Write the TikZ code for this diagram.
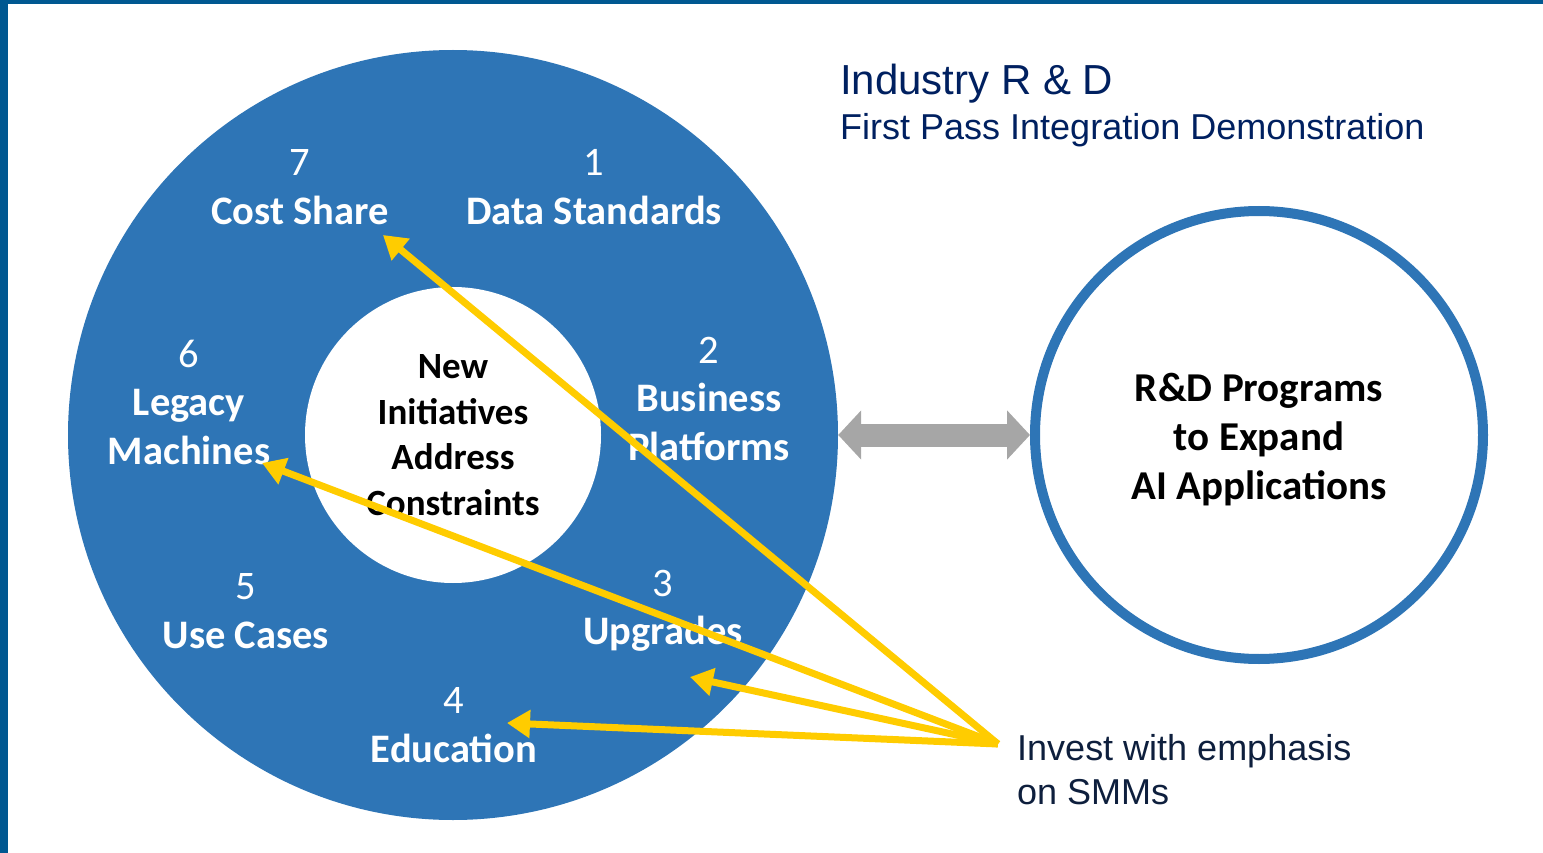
\documentclass[tikz,border=0pt]{standalone}
\usepackage{fontspec}
\setmainfont{Carlito}
\newfontfamily\arialfont{Liberation Sans}
\usetikzlibrary{arrows.meta}
\definecolor{frameblue}{RGB}{0,88,145}
\definecolor{ringblue}{RGB}{46,117,182}
\definecolor{pickyellow}{RGB}{255,204,0}
\definecolor{linkgray}{RGB}{166,166,166}
\definecolor{titlenavy}{RGB}{0,32,96}
\definecolor{notenavy}{RGB}{14,31,61}

\begin{document}
\begin{tikzpicture}[x=1pt,y=-1pt,
    lbl/.style={text=white, align=center, inner sep=0pt,
      font=\fontsize{40.5}{48.5}\selectfont\bfseries},
    pick/.style={draw=pickyellow, line width=7pt,
      -{Triangle[length=23pt,width=27pt]}}]
  \useasboundingbox (0,0) rectangle (1543,853);
  % frame bars
  \fill[frameblue] (0,0) rectangle (1543,4);
  \fill[frameblue] (0,0) rectangle (8,853);

  % the ring of seven areas
  \node[circle, fill=ringblue, minimum size=770pt, inner sep=0pt] (ring) at (453,435) {};
  \node[circle, fill=white, minimum size=296pt, inner sep=0pt, align=center,
    font=\fontsize{37}{45.5}\selectfont\bfseries] (core) at (453,435)
    {New\\Initiatives\\Address\\Constraints};
  \node[lbl] (area1) at (594,187) {{\mdseries 1}\\Data Standards};
  \node[lbl] (area2) at (709,399) {{\mdseries 2}\\Business\\Platforms};
  \node[lbl] (area3) at (663,611) {{\mdseries 3}\\Upgrades};
  \node[lbl] (area4) at (454,725) {{\mdseries 4}\\Education};
  \node[lbl] (area5) at (246,611) {{\mdseries 5}\\Use Cases};
  \node[lbl] (area6) at (189,402) {{\mdseries 6}\\Legacy\\Machines};
  \node[lbl] (area7) at (300,187) {{\mdseries 7}\\Cost Share};

  % R&D circle on the right
  \node[circle, draw=ringblue, line width=10pt, minimum size=448pt, align=center,
    font=\fontsize{41}{49}\selectfont\bfseries] (rd) at (1259,435) {};
  \node[align=center, inner sep=0pt, font=\fontsize{41}{49}\selectfont\bfseries]
    (rdtext) at (1259,440) {R\&D Programs\\to Expand\\AI Applications};
  \draw[linkgray, line width=23pt,
    {Triangle[length=23pt,width=48pt]}-{Triangle[length=23pt,width=48pt]}]
    (ring.east) -- (rd.west);

  % headings
  \node[anchor=base west, inner sep=0pt, text=titlenavy,
    font=\arialfont\fontsize{42}{50}\selectfont] (title) at (840,95) {Industry R \& D};
  \node[anchor=base west, inner sep=0pt, text=titlenavy,
    font=\arialfont\fontsize{36}{44}\selectfont] (subtitle) at (840,140)
    {First Pass Integration Demonstration};
  \node[anchor=base west, inner sep=0pt, text=notenavy, align=left,
    font=\arialfont\fontsize{36}{44}\selectfont] (invest) at (1017,804)
    {Invest with emphasis\\on SMMs};

  % yellow arrows
  \coordinate (src) at (998,744);
  \coordinate (to7) at (383,235);
  \coordinate (to6) at (262,463);
  \coordinate (to3) at (690,677);
  \coordinate (to4) at (507,723);
  \draw[pick] (src) -- (to7);
  \draw[pick] (src) -- (to6);
  \draw[pick] (src) -- (to3);
  \draw[pick] (src) -- (to4);
\end{tikzpicture}
\end{document}
